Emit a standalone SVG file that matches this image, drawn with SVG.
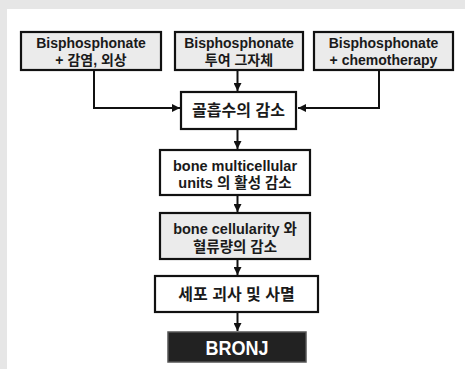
<svg xmlns="http://www.w3.org/2000/svg" width="465" height="369" viewBox="0 0 465 369">
<defs>
<style>
.bx{stroke:#111;stroke-width:2.2}
.g{fill:#ebebeb}
.w{fill:#ffffff}
.t{font-family:"Liberation Sans","Noto Sans CJK KR",Arial,sans-serif;font-weight:bold;fill:#1a1a1a;text-anchor:middle}
.c{fill:none;stroke:#111;stroke-width:2}
</style>
<marker id="ah" viewBox="0 0 10 10" refX="10" refY="5" markerWidth="4" markerHeight="4" orient="auto" markerUnits="strokeWidth">
<path d="M0,0 L10,5 L0,10 z" fill="#111"/>
</marker>
</defs>
<rect x="0" y="0" width="465" height="369" fill="#e6e6e6"/>
<rect x="7" y="9" width="458" height="360" fill="#ffffff"/>
<g id="connectors">
<path class="c" d="M94,71 V108 H180" marker-end="url(#ah)"/>
<path class="c" d="M237.5,71 V91" marker-end="url(#ah)"/>
<path class="c" d="M379,71 V108 H298" marker-end="url(#ah)"/>
<path class="c" d="M237.5,130 V149" marker-end="url(#ah)"/>
<path class="c" d="M237.5,196 V212" marker-end="url(#ah)"/>
<path class="c" d="M237.5,260 V275" marker-end="url(#ah)"/>
<path class="c" d="M237.5,313 V331" marker-end="url(#ah)"/>
</g>
<g id="n1">
<rect class="bx g" x="21" y="32" width="140" height="38"/>
<text class="t" font-size="14" x="91" y="48">Bisphosphonate</text>
<text class="t" font-size="14" x="91" y="65">+ 감염, 외상</text>
</g>
<g id="n2">
<rect class="bx g" x="175" y="32" width="128" height="38"/>
<text class="t" font-size="14" x="239" y="48">Bisphosphonate</text>
<text class="t" font-size="14" x="239" y="65">투여 그자체</text>
</g>
<g id="n3">
<rect class="bx g" x="314" y="32" width="139" height="38"/>
<text class="t" font-size="14" x="383.5" y="48">Bisphosphonate</text>
<text class="t" font-size="14" x="383.5" y="65">+ chemotherapy</text>
</g>
<g id="n4">
<rect class="bx w" x="181" y="92" width="115" height="37"/>
<text class="t" font-size="16" x="238.5" y="116">골흡수의 감소</text>
</g>
<g id="n5">
<rect class="bx w" x="160" y="150" width="150" height="45"/>
<text class="t" font-size="14.5" x="235" y="171">bone multicellular</text>
<text class="t" font-size="14.5" x="235" y="188">units 의 활성 감소</text>
</g>
<g id="n6">
<rect class="bx g" x="160" y="213" width="150" height="46"/>
<text class="t" font-size="14.5" x="235" y="234">bone cellularity 와</text>
<text class="t" font-size="14.5" x="235" y="252">혈류량의 감소</text>
</g>
<g id="n7">
<rect class="bx w" x="155" y="276" width="163" height="36"/>
<text class="t" font-size="16" x="236.5" y="300">세포 괴사 및 사멸</text>
</g>
<g id="n8">
<rect x="168" y="332" width="138" height="30" fill="#222222" stroke="#555" stroke-width="1.5"/>
<text class="t" font-size="20" x="237" y="355" fill="#ffffff" style="fill:#ffffff" textLength="63" lengthAdjust="spacingAndGlyphs">BRONJ</text>
</g>
</svg>
